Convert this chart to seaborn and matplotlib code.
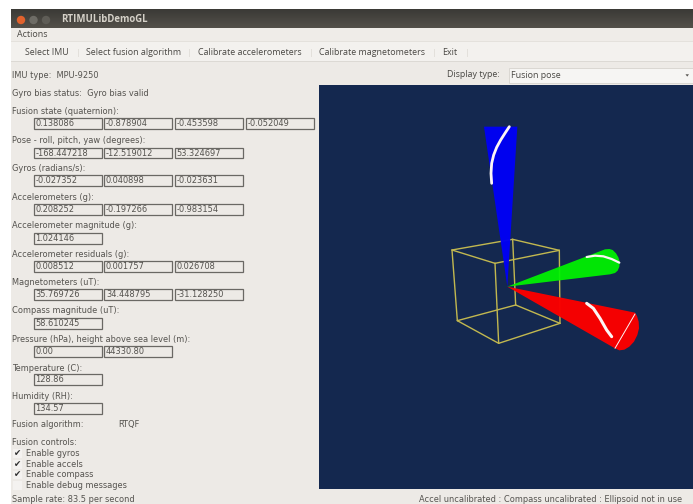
import numpy as np
import pandas as pd
import matplotlib
matplotlib.use("Agg")
import matplotlib.pyplot as plt
from matplotlib.patches import Rectangle, Circle, Polygon
import seaborn as sns

# ---- content -------------------------------------------------------------
window_title = "RTIMULibDemoGL"
menu_items = ["Actions"]
toolbar_items = ["Select IMU", "Select fusion algorithm", "Calibrate accelerometers",
                 "Calibrate magnetometers", "Exit"]
imu_line = "IMU type:  MPU-9250"
bias_line = "Gyro bias status:  Gyro bias valid"
quaternion = ["0.138086", "-0.878904", "-0.453598", "-0.052049"]
pose = ["-168.447218", "-12.519012", "53.324697"]
gyros = ["-0.027352", "0.040898", "-0.023631"]
accels = ["0.208252", "-0.197266", "-0.983154"]
accel_mag = ["1.024146"]
accel_resid = ["0.008512", "0.001757", "0.026708"]
mags = ["35.769726", "34.448795", "-31.128250"]
compass_mag = ["58.610245"]
pressure = ["0.00", "44330.80"]
temperature = ["128.86"]
humidity = ["134.57"]
group_titles = ["Fusion state (quaternion):", "Pose - roll, pitch, yaw (degrees):",
                "Gyros (radians/s):", "Accelerometers (g):", "Accelerometer magnitude (g):",
                "Accelerometer residuals (g):", "Magnetometers (uT):", "Compass magnitude (uT):",
                "Pressure (hPa), height above sea level (m):", "Temperature (C):", "Humidity (RH):"]
check_labels = ["Enable gyros", "Enable accels", "Enable compass", "Enable debug messages"]
check_states = [True, True, True, False]
sample_rate = "Sample rate: 83.5 per second"
status_text = "Accel uncalibrated : Compass uncalibrated : Ellipsoid not in use"

# ---- layout ----------------------------------------------------------------
group_values = [quaternion, pose, gyros, accels, accel_mag, accel_resid, mags,
                compass_mag, pressure, temperature, humidity]
title_y = [112, 140.5, 169, 198, 226, 254.5, 283, 311, 340, 368.5, 396.5]
box_top = [118, 147.5, 175, 204, 233, 261, 289, 318, 346, 374, 403]
box_x = [33.5, 104, 174.5, 246]
box_w, box_h = 68, 10.5
toolbar_x = [25, 85.5, 197.5, 319, 442]
check_y = [453.5, 464.5, 475, 485.5]

BG = "#edeae6"
TXT = "#55534f"
NAVY = "#14284f"
LBL = dict(family="DejaVu Sans", fontsize=5.95, color=TXT, va="baseline", ha="left")
UI = dict(family="Open Sans", fontsize=6.4, color="#4a4844", va="baseline", ha="left")
DY = 2.2

sns.set_theme(style="white")
fig = plt.figure(figsize=(6.93, 5.04), dpi=100, facecolor="white")
ax = fig.add_axes([0, 0, 1, 1])
ax.set_axis_off()


def rect(x0, y0, x1, y1, fc, ec="none", lw=0, z=1):
    ax.add_patch(Rectangle((x0, y0), x1 - x0, y1 - y0, fc=fc, ec=ec, lw=lw, zorder=z))


# window chrome
rect(11, 9, 693, 504, BG)
ax.imshow(np.linspace(0, 1, 20)[:, None], extent=(11, 693, 28, 9), aspect="auto", zorder=2,
          cmap=matplotlib.colors.LinearSegmentedColormap.from_list("t", ["#3b3a36", "#53504a"]))
rect(11, 28, 693, 41, "#efece8")
rect(11, 41, 693, 42, "#e4e1dc")
rect(11, 42, 693, 61, "#f3f1ee")
rect(11, 60.5, 693, 62, "#dcd9d4")
for cx, col in zip([21, 33.5, 46], ["#e2622d", "#6e6c66", "#5f5d57"]):
    ax.add_patch(Circle((cx, 20), 4.2, fc=col, ec="none", zorder=3))
ax.text(61, 22.5, window_title, family="Open Sans", fontweight="bold", fontsize=6.9,
        color="#d5d1c8", va="baseline", zorder=4)
ax.text(17, 35 + DY, menu_items[0], **UI)
for x, s in zip(toolbar_x, toolbar_items):
    ax.text(x, 53 + DY, s, **UI)
for x in [78, 189, 311, 434, 467]:
    rect(x, 49, x + 0.8, 57, "#e3e0db", z=2)

# left column
ax.text(12.5, 76 + DY, imu_line, **LBL)
ax.text(12.5, 94 + DY, bias_line, **LBL)
for name, ty, top, vals in zip(group_titles, title_y, box_top, group_values):
    ax.text(12.5, ty + DY, name, **LBL)
    for x, v in zip(box_x, vals):
        rect(x, top, x + box_w, top + box_h, BG, ec="#6a6864", lw=0.9, z=2)
        ax.text(x + 2, top + box_h / 2 + DY + 0.6, v, zorder=3, **LBL)
ax.text(12.5, 425 + DY, "Fusion algorithm:", **LBL)
ax.text(118, 425 + DY, "RTQF", **LBL)
ax.text(12.5, 442.5 + DY, "Fusion controls:", **LBL)
for y, s, on in zip(check_y, check_labels, check_states):
    rect(13, y - 4.2, 21.5, y + 4.2, "#f4f2f0", z=2)
    if on:
        ax.text(17.2, y, "\u2714", family="DejaVu Sans", fontsize=6.2, color="#2f2f2f",
                ha="center", va="center", zorder=3)
    ax.text(25.5, y + DY, s, **LBL)
ax.text(12.5, 500 + DY, sample_rate, **LBL)
ax.text(419, 500 + DY, status_text, **LBL)

# display selector
ax.text(500, 75 + DY, "Display type:", **{**UI, "ha": "right"})
rect(508.5, 68, 693, 83, "#f6f5f3", ec="#d6d3ce", lw=0.6)
ax.text(511, 75.3 + DY, "Fusion pose", **UI)
ax.add_patch(Polygon([[685.5, 74.3], [689, 74.3], [687.2, 76.6]], fc="#55534f", ec="none", zorder=3))

# 3D view
rect(318.5, 84.5, 693, 488.5, NAVY, z=2)


def pts(seq):
    """Convert positions measured on the 3x crop of the viewport to figure pixels."""
    return [(430 + x / 3, 110 + y / 3) for x, y in seq]


corners = dict(A=(66, 420), B=(248, 388), C=(388, 421), D=(195, 460),
               E=(82, 632), F=(257, 585), G=(390, 640), H=(206, 700))
edges = ["AB", "BC", "CD", "DA", "EF", "FG", "GH", "HE", "AE", "BF", "CG", "DH"]
rows = []
for e in edges:
    for order, c in enumerate(e):
        px, py = pts([corners[c]])[0]
        rows.append(dict(edge=e, order=order, x=px, y=py))
cube = pd.DataFrame(rows)
sns.lineplot(data=cube, x="x", y="y", units="edge", estimator=None, sort=False,
             color="#c2b84f", lw=1.0, ax=ax, zorder=3, legend=False)

apex = (232, 530)
blue = [apex, (162, 50), (262, 50)]
green = [apex, (525, 418), (538, 417), (548, 420), (558, 430), (565, 442), (569, 455), (568, 470),
         (563, 482), (555, 489), (540, 493)]
red = [apex, (615, 608), (621, 618), (626, 635), (627, 655), (622, 675), (612, 695), (598, 710),
       (583, 719), (568, 721), (553, 714)]
ax.add_patch(Polygon(pts(blue), fc="#0000f5", ec="none", zorder=4, alpha=0.97))
ax.add_patch(Polygon(pts(green), fc="#00f500", ec="none", zorder=4, alpha=0.93))
ax.add_patch(Polygon(pts(red), fc="#fa0000", ec="none", zorder=5, alpha=0.98))

streaks = [([(238, 50), (226, 68), (212, 90), (200, 112), (191, 135), (185, 160), (183, 190), (185, 220)], 2.0),
           ([(470, 441), (495, 437), (520, 439), (545, 447), (568, 458)], 1.6),
           ([(470, 580), (490, 595), (510, 625), (530, 660), (545, 680)], 2.2),
           ([(615, 612), (555, 715)], 0.7)]
for s, lw in streaks:
    xs, ys = zip(*pts(s))
    ax.plot(xs, ys, color="#fdf5f5", lw=lw, zorder=6, solid_capstyle="round")

ax.set_xlim(0, 693)
ax.set_ylim(504, 0)
ax.set_xlabel("")
ax.set_ylabel("")
fig.savefig("out.png", dpi=100, facecolor="white")
